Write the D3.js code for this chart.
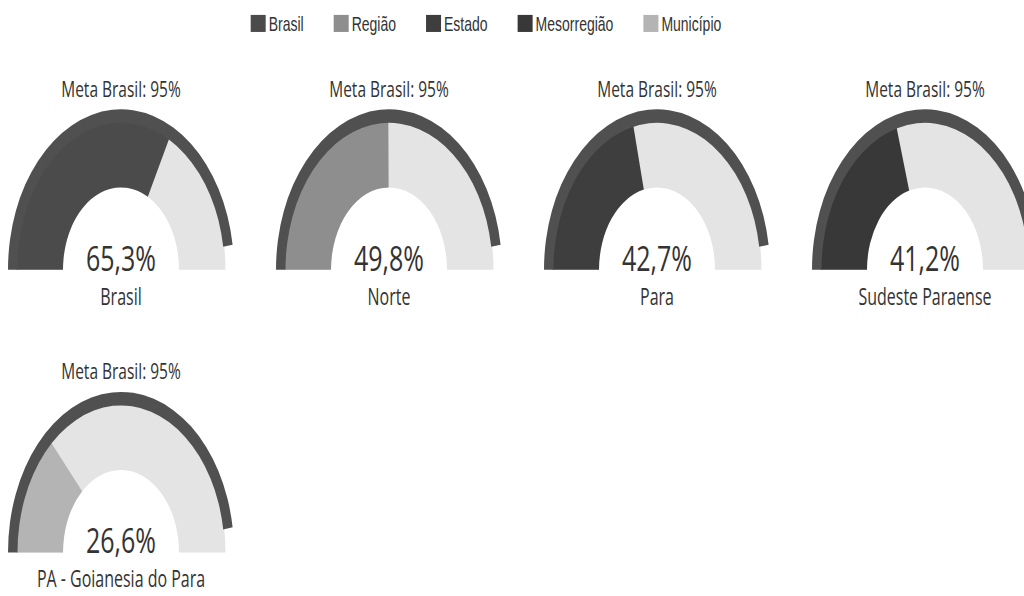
<!DOCTYPE html>
<html>
<head>
<meta charset="utf-8">
<script src="https://cdn.jsdelivr.net/npm/d3@7"></script>
<style>
  html, body { margin: 0; padding: 0; background: #fff; }
  svg { display: block; }
</style>
</head>
<body>
<svg id="chart"></svg>
<script>
// legend levels and their fill colours (scan is grey)
const levels = ["Brasil", "Região", "Estado", "Mesorregião", "Município"]
const levelColors = ["#4b4b4b", "#8e8e8e", "#3e3e3e", "#383838", "#b4b4b4"]

// one gauge per area
const areas = ["Brasil", "Norte", "Para", "Sudeste Paraense", "PA - Goianesia do Para"]
const areaLevel = [0, 1, 2, 3, 4]
const coverage = [65.3, 49.8, 42.7, 41.2, 26.6]
const metaLabel = "Meta Brasil: 95%"
const meta = 95

const W = 1024, H = 596
const stretch = 1.42   // the picture is taller than wide, draw in flat space and stretch
const vh = H / stretch

const svg = d3.select("#chart")
    .attr("width", W)
    .attr("height", H)
    .attr("viewBox", `0 0 ${W} ${vh}`)
    .attr("preserveAspectRatio", "none")

const fmt = d3.formatLocale({decimal: ",", thousands: ".", grouping: [3], currency: ["R$", ""]}).format(".1f")

//Legend
const legend = svg.append("g").attr("class", "legend")
const items = legend.selectAll("g").data(levels).enter().append("g")
items.append("rect")
    .attr("y", 10.5)
    .attr("width", 15)
    .attr("height", 12)
    .attr("fill", (d, i) => levelColors[i])
items.append("text")
    .attr("x", 18)
    .attr("y", 22)
    .attr("font-family", "Liberation Sans, Arial, sans-serif")
    .attr("font-size", 14)
    .attr("fill", "#333")
    .text(d => d)
let lx = 0
const gap = 30
items.each(function() {
    const w = this.getBBox().width
    d3.select(this).attr("transform", `translate(${lx},0)`)
    lx += w + gap
})
legend.attr("transform", `translate(${486 - (lx - gap) / 2},0)`)

// gauges
const angle = d3.scaleLinear().domain([0, 100]).range([-Math.PI / 2, Math.PI / 2])
const innerR = 58, outerR = 104.5, bandR = 113
const arc = d3.arc().innerRadius(innerR).outerRadius(outerR)
const band = d3.arc().innerRadius(outerR - 1).outerRadius(bandR)

const colX = d3.scaleLinear().domain([0, 3]).range([121, 925])
const rowY = d3.scaleLinear().domain([0, 1]).range([190, 389])

areas.forEach(function(name, i) {
    const g = svg.append("g")
        .attr("transform", `translate(${colX(i % 4)}, ${rowY(Math.floor(i / 4))})`)

    g.append("path")
        .attr("d", arc({startAngle: angle(0), endAngle: angle(100)}))
        .attr("fill", "#e4e4e4")
    g.append("path")
        .attr("d", arc({startAngle: angle(0), endAngle: angle(coverage[i])}))
        .attr("fill", levelColors[areaLevel[i]])
    g.append("path")
        .attr("d", band({startAngle: angle(0), endAngle: angle(meta)}))
        .attr("fill", "#505050")

    g.append("text")
        .attr("y", -122)
        .attr("text-anchor", "middle")
        .attr("font-family", "Open Sans, sans-serif")
        .attr("font-size", 15.5)
        .attr("fill", "#333")
        .text(metaLabel)
    g.append("text")
        .attr("y", 0.5)
        .attr("text-anchor", "middle")
        .attr("font-family", "Open Sans, sans-serif")
        .attr("font-size", 25)
        .attr("fill", "#333")
        .text(fmt(coverage[i]) + "%")
    g.append("text")
        .attr("y", 24.5)
        .attr("text-anchor", "middle")
        .attr("font-family", "Open Sans, sans-serif")
        .attr("font-size", 16)
        .attr("fill", "#333")
        .text(name)
})
</script>
</body>
</html>
